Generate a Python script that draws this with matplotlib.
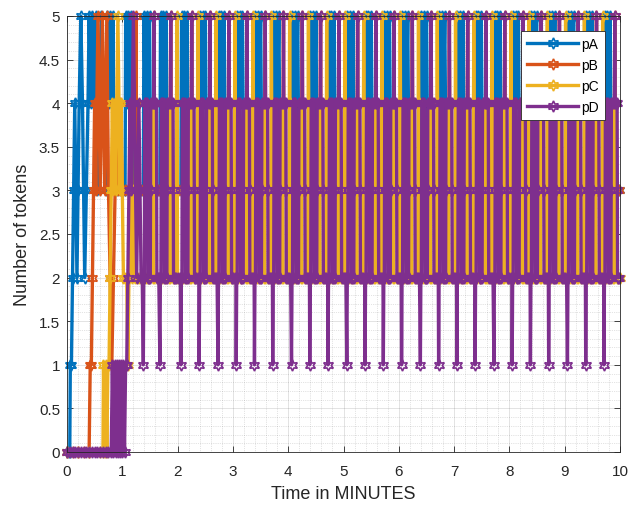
import matplotlib
matplotlib.use("Agg")
import matplotlib.pyplot as plt
from matplotlib.ticker import MultipleLocator

plt.rcParams['font.family'] = ['Liberation Sans', 'DejaVu Sans']

# ---------------- data ----------------
series_names = ['pA', 'pB', 'pC', 'pD']
colors = ['#0072BD', '#D95319', '#EDB120', '#7E2F8E']

# start times (minutes) of the repeating firing cycle (pD dips to 1 token)
cycle_starts = [0.72, 1.05, 1.38, 1.68, 2.06, 2.39, 2.73, 3.06, 3.39, 3.72,
                4.06, 4.39, 4.72, 5.06, 5.39, 5.72, 6.05, 6.39, 6.72, 7.05,
                7.38, 7.72, 8.05, 8.38, 8.71, 9.05, 9.38, 9.71]

# start-up transients (time in minutes, tokens)
pA_t0 = [0, 0.03, 0.05, 0.06, 0.08, 0.10, 0.12, 0.14, 0.16, 0.18, 0.20, 0.22,
         0.25, 0.28, 0.30, 0.32, 0.35, 0.38, 0.40, 0.43, 0.46, 0.49, 0.52,
         0.55, 0.58, 0.62, 0.66, 0.70]
pA_v0 = [0, 0, 0, 1, 1, 2, 3, 4, 3, 2, 3, 4, 5, 4, 3, 2, 3, 4, 5, 4, 5, 4, 5,
         3, 4, 5, 4, 3]

pB_t0 = [0, 0.1, 0.2, 0.3, 0.4, 0.42, 0.44, 0.46, 0.48, 0.50, 0.52, 0.54, 0.56,
         0.58, 0.60, 0.62, 0.64, 0.66, 0.68, 0.70, 0.72, 0.75, 0.78, 0.81,
         0.84, 0.87, 0.90, 0.93, 0.96, 1.00]
pB_v0 = [0, 0, 0, 0, 0, 1, 1, 2, 3, 4, 3, 4, 5, 4, 3, 4, 5, 4, 3, 4, 5, 3, 2,
         1, 2, 3, 4, 3, 4, 3]

pC_t0 = [0, 0.2, 0.4, 0.6, 0.65, 0.66, 0.68, 0.70, 0.72, 0.74, 0.76, 0.78,
         0.80, 0.82, 0.84, 0.86, 0.88, 0.90, 0.92, 0.94, 0.96, 0.98, 1.00,
         1.02, 1.05, 1.08, 1.10, 1.12, 1.14, 1.17, 1.20, 1.23, 1.26, 1.30, 1.34]
pC_v0 = [0, 0, 0, 0, 0, 1, 0, 1, 0, 1, 1, 2, 3, 4, 3, 4, 3, 4, 5, 4, 3, 4, 3,
         2, 2, 2, 1, 2, 3, 2, 3, 2, 2, 2, 2]

pD_t0 = [0, 0.05, 0.10, 0.15, 0.20, 0.25, 0.30, 0.35, 0.40, 0.45, 0.50, 0.55,
         0.60, 0.65, 0.70, 0.75, 0.80, 0.82, 0.84, 0.86, 0.88, 0.90, 0.92,
         0.94, 0.96, 0.98, 1.00, 1.02, 1.04, 1.06, 1.08, 1.10, 1.12, 1.14,
         1.16, 1.18, 1.20, 1.22, 1.24, 1.26, 1.28, 1.30, 1.32, 1.34, 1.36]
pD_v0 = [0, 0, 0, 0, 0, 0, 0, 0, 0, 0, 0, 0, 0, 0, 0, 0, 0, 1, 0, 1, 0, 1, 0,
         1, 0, 1, 0, 1, 0, 1, 1, 2, 3, 4, 3, 4, 5, 4, 3, 2, 3, 4, 3, 2, 2]

# one firing cycle (offset from cycle start in minutes, tokens)
pA_cyc_t = [0.000, 0.011, 0.036, 0.061, 0.087, 0.112, 0.135, 0.180, 0.230,
            0.280, 0.325]
pA_cyc_v = [3, 5, 4, 5, 4, 5, 3, 3, 3, 3, 3]

pB_cyc_t = [0.000, 0.060, 0.120, 0.180, 0.190, 0.195, 0.200, 0.210, 0.270,
            0.325]
pB_cyc_v = [3, 3, 3, 3, 4, 5, 4, 3, 3, 3]

pC_cyc_t = [0.000, 0.040, 0.090, 0.170, 0.175, 0.179, 0.184, 0.188, 0.240,
            0.290, 0.297, 0.301, 0.306, 0.311, 0.315, 0.320]
pC_cyc_v = [2, 2, 2, 2, 3, 4, 3, 2, 2, 2, 3, 4, 5, 4, 3, 2]

pD_cyc_t = [0.000, 0.009, 0.018, 0.022, 0.026, 0.036, 0.046, 0.072, 0.076,
            0.080, 0.095, 0.110, 0.126, 0.130, 0.134, 0.150, 0.170, 0.190,
            0.195, 0.200, 0.220, 0.238, 0.242, 0.246, 0.262, 0.280, 0.300,
            0.324, 0.370]
pD_cyc_v = [1, 2, 2, 3, 4, 4, 4, 4, 3, 2, 2, 2, 2, 3, 4, 4, 4, 4, 5, 4, 4,
            4, 3, 2, 2, 2, 2, 2, 2]

T_END = 10.0


def build(t0, v0, ct, cv, starts):
    t, v = list(t0), list(v0)
    use = [s for s in starts if s > t0[-1]]
    for i, s in enumerate(use):
        nxt = use[i + 1] - 0.004 if i + 1 < len(use) else T_END + 1
        for o, y in zip(ct, cv):
            tt = s + o
            if tt < nxt and tt <= T_END:
                t.append(tt)
                v.append(y)
    return t, v


data = [build(pA_t0, pA_v0, pA_cyc_t, pA_cyc_v, cycle_starts),
        build(pB_t0, pB_v0, pB_cyc_t, pB_cyc_v, cycle_starts),
        build(pC_t0, pC_v0, pC_cyc_t, pC_cyc_v, cycle_starts),
        build(pD_t0, pD_v0, pD_cyc_t, pD_cyc_v, cycle_starts)]

# ---------------- plot ----------------
fig = plt.figure(figsize=(6.3, 5.1), dpi=100)
ax = fig.add_axes([67 / 630, 57 / 510, 553 / 630, 436 / 510])

hexagram = (6, 1, 0)
for (t, v), name, c in zip(data, series_names, colors):
    ax.plot(t, v, '-', color=c, lw=2.4, marker=hexagram, ms=8,
            mfc='none', mec=c, mew=1.2, label=name, clip_on=False)

ax.set_xlim(0, 10)
ax.set_ylim(0, 5)
ax.xaxis.set_major_locator(MultipleLocator(1))
ax.xaxis.set_minor_locator(MultipleLocator(0.2))
ax.yaxis.set_major_locator(MultipleLocator(0.5))
ax.yaxis.set_minor_locator(MultipleLocator(0.1))
ax.set_yticks([0, 0.5, 1, 1.5, 2, 2.5, 3, 3.5, 4, 4.5, 5])
ax.set_yticklabels(['0', '0.5', '1', '1.5', '2', '2.5', '3', '3.5', '4', '4.5', '5'])

ax.grid(True, which='major', color='#262626', alpha=0.15, lw=0.6)
ax.grid(True, which='minor', color='#262626', alpha=0.25, lw=0.5, ls=':')
ax.set_axisbelow(True)

ax.tick_params(axis='x', which='major', pad=9)
ax.tick_params(axis='y', which='major', pad=5)
ax.tick_params(which='major', direction='in', length=4, width=0.6,
               top=True, right=True, colors='#262626', labelsize=11)
ax.tick_params(which='minor', length=0, top=True, right=True)
for sp in ax.spines.values():
    sp.set_color('#262626')
    sp.set_linewidth(0.6)

ax.set_xlabel('Time in MINUTES', fontsize=13, color='#262626', labelpad=5)
ax.set_ylabel('Number of tokens', fontsize=13, color='#262626', labelpad=6)

leg = ax.legend(loc='upper right', bbox_to_anchor=(0.973, 0.966),
                fontsize=10, handlelength=3.7, handletextpad=0.2,
                labelspacing=0.5, borderpad=0.45, fancybox=False,
                framealpha=1, edgecolor='#262626', borderaxespad=0)
leg.get_frame().set_linewidth(0.6)

fig.savefig('out.png', dpi=100)
